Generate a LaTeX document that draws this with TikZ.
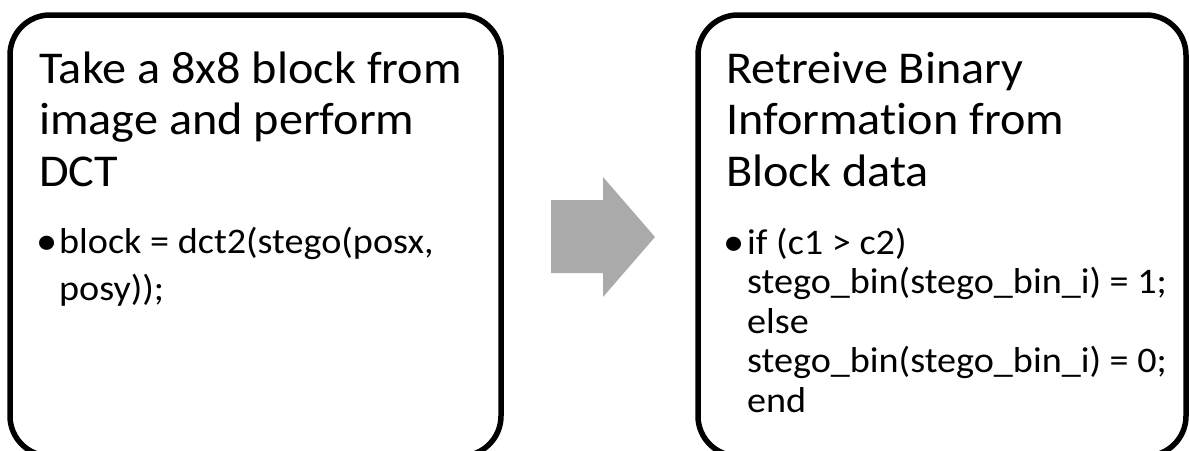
\documentclass[tikz,border=0pt]{standalone}
\usepackage{fontspec}
\setmainfont{Carlito}[FakeStretch=1.06, Ligatures=NoCommon]
\definecolor{arrowgray}{RGB}{170,170,170}
\begin{document}
\begin{tikzpicture}[x=1pt,y=-1pt,
  card/.style={draw=black, line width=5.5pt, rounded corners=40pt},
  headline/.style={anchor=base west, inner sep=0pt, font=\fontsize{45.5}{52}\selectfont},
  bodyline/.style={anchor=base west, inner sep=0pt, font=\fontsize{36}{43}\selectfont},
  bulletmark/.style={anchor=base west, inner sep=0pt, font=\fontsize{40}{40}\selectfont},
]
\useasboundingbox (0,0) rectangle (1189,450);
\clip (0,0) rectangle (1189,450);

% the two process cards
\draw[card] (10,15) rectangle (501,456);
\draw[card] (698,15) rectangle (1186,456);

% block arrow between the cards
\fill[arrowgray] (551,200) -- (603,200) -- (603,177) -- (655,237)
  -- (603,297) -- (603,273) -- (551,273) -- cycle;

% left card
\node[headline] (lh1) at (39,83)    {Take a 8x8 block from};
\node[headline] (lh2) at (39,134.5) {image and perform};
\node[headline] (lh3) at (39,186.5) {DCT};
\node[bulletmark] (lb) at (36,254.5) {•};
\node[bodyline] (lt1) at (59,253) {block = dct2(stego(posx,};
\node[bodyline] (lt2) at (59,300) {posy));};

% right card
\node[headline] (rh1) at (726,83)    {Retreive Binary};
\node[headline] (rh2) at (726,134.5) {Information from};
\node[headline] (rh3) at (726,186.5) {Block data};
\node[bulletmark] (rb) at (723,255.5) {•};
\node[bodyline] (rt1) at (747,254)   {if (c1 > c2)};
\node[bodyline] (rt2) at (747,293.5) {stego\_bin(stego\_bin\_i) = 1;};
\node[bodyline] (rt3) at (747,333)   {else};
\node[bodyline] (rt4) at (747,372.5) {stego\_bin(stego\_bin\_i) = 0;};
\node[bodyline] (rt5) at (747,412)   {end};
\end{tikzpicture}
\end{document}
